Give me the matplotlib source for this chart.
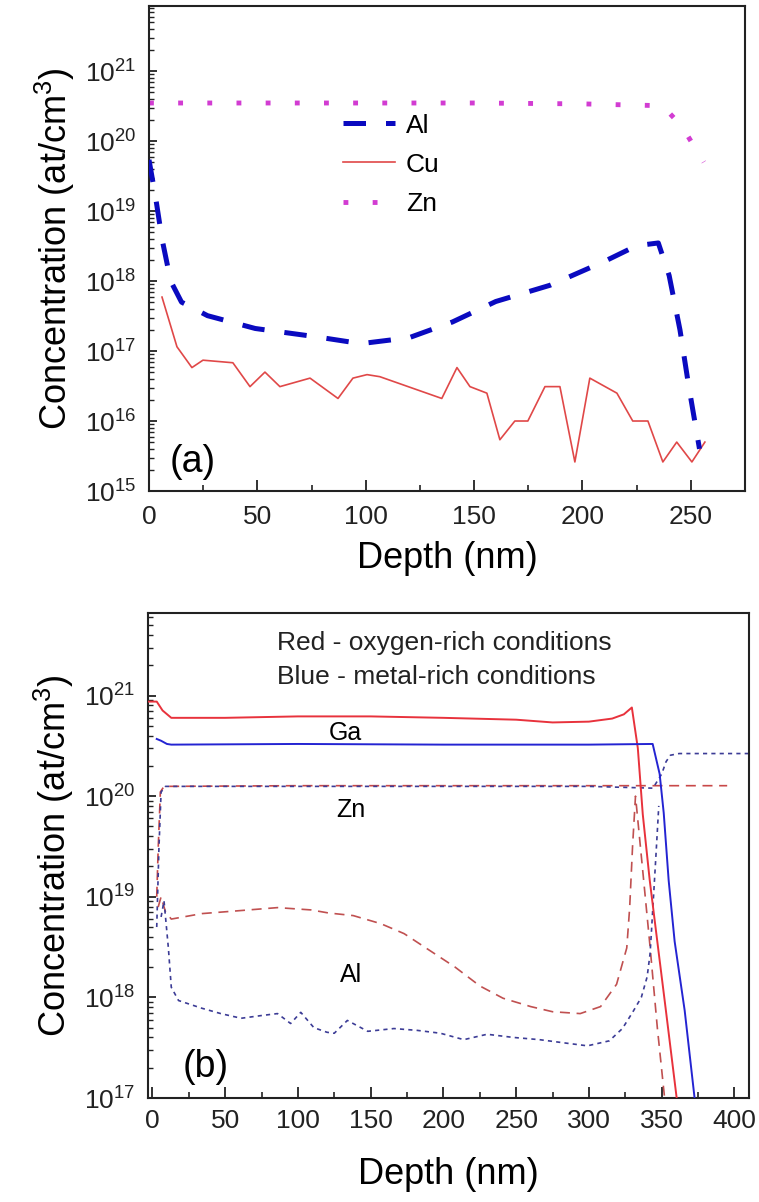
import numpy as np
import matplotlib
matplotlib.use("Agg")
import matplotlib.pyplot as plt
from matplotlib.ticker import LogLocator, MultipleLocator, FuncFormatter, NullFormatter

plt.rcParams['font.family'] = ['Liberation Sans', 'DejaVu Sans']
plt.rcParams['mathtext.fontset'] = 'custom'
plt.rcParams['mathtext.rm'] = 'Liberation Sans'
plt.rcParams['mathtext.it'] = 'Liberation Sans:italic'
plt.rcParams['mathtext.bf'] = 'Liberation Sans:bold'

# ---------------- Panel (a) data ----------------
a_zn_depth = [0, 10, 50, 100, 150, 200, 237, 246, 256]
a_zn_conc = [3.5e20, 3.5e20, 3.5e20, 3.5e20, 3.5e20, 3.4e20, 3.2e20, 1.6e20, 5.0e19]

a_al_depth = [0, 3, 6, 10, 15, 27, 49, 77, 96, 100, 120, 140, 160, 185, 210, 225, 235, 240, 245, 249, 254]
a_al_conc = [5.4e19, 1.6e19, 4.0e18, 1.0e18, 5.0e17, 3.2e17, 2.1e17, 1.6e17, 1.3e17, 1.3e17,
             1.55e17, 2.6e17, 5.1e17, 8.7e17, 1.9e18, 3.2e18, 3.5e18, 1.2e18, 2.0e17, 3.2e16, 4.0e15]

a_cu_depth = [6, 12.9, 19.8, 24.9, 38.7, 46.6, 53.5, 60.4, 74.3, 87.2, 94.1, 100.6, 106.5, 135.1,
              142.1, 148.1, 155.9, 161.9, 168.8, 174.8, 182.7, 189.6, 196.5, 203.4, 215.9, 223.2,
              230.2, 237.1, 243.5, 250.5, 256.5]
a_cu_conc = [5.9e17, 1.15e17, 5.8e16, 7.4e16, 6.8e16, 3.1e16, 5.0e16, 3.1e16, 4.1e16, 2.1e16,
             4.1e16, 4.6e16, 4.3e16, 2.1e16, 5.8e16, 3.1e16, 2.5e16, 5.4e15, 1.0e16, 1.0e16,
             3.1e16, 3.1e16, 2.6e15, 4.1e16, 2.5e16, 1.0e16, 1.0e16, 2.6e15, 5.0e15, 2.6e15, 5.0e15]

# ---------------- Panel (b) data ----------------
b_ga_o_depth = [-3, 3, 7, 13, 50, 100, 150, 200, 250, 275, 300, 316, 324, 329.5, 333.6, 337,
                341.8, 345.2, 352.7, 360.3, 362]
b_ga_o_conc = [8.7e20, 8.7e20, 7.1e20, 6.0e20, 6.0e20, 6.2e20, 6.2e20, 6.0e20, 5.75e20, 5.4e20,
               5.5e20, 5.9e20, 6.5e20, 7.6e20, 3.0e20, 6.6e19, 1.45e19, 5.8e18, 7.8e17, 1.0e17, 6.3e16]

b_ga_m_depth = [3, 6, 10, 13, 100, 200, 300, 343.8, 348.6, 351.4, 354.8, 358.9, 365.8, 372.6, 374]
b_ga_m_conc = [3.7e20, 3.55e20, 3.3e20, 3.25e20, 3.3e20, 3.25e20, 3.25e20, 3.3e20, 1.66e20,
               6.8e19, 1.45e19, 3.6e18, 7.4e17, 1.0e17, 6.3e16]

b_zn_o_depth = [3, 4, 5.5, 8, 100, 200, 300, 330, 395]
b_zn_o_conc = [1.0e19, 3.0e19, 1.1e20, 1.25e20, 1.27e20, 1.27e20, 1.27e20, 1.27e20, 1.27e20]

b_zn_m_depth = [3, 4.5, 6, 9, 100, 200, 300, 344, 350, 353, 356, 362, 410]
b_zn_m_conc = [5.0e18, 3.0e19, 1.1e20, 1.25e20, 1.25e20, 1.25e20, 1.25e20, 1.2e20, 1.66e20,
               2.2e20, 2.55e20, 2.65e20, 2.65e20]

b_al_o_depth = [4, 6, 9, 13, 34, 56, 86, 109, 121, 138, 157, 173, 191, 208, 225, 241, 260, 275,
                294, 308, 319, 326, 328, 330, 332, 337, 342, 347, 352]
b_al_o_conc = [7.9e18, 1.0e19, 7.1e18, 6.0e18, 6.8e18, 7.2e18, 7.8e18, 7.4e18, 6.9e18, 6.5e18,
               5.4e18, 4.3e18, 2.9e18, 2.0e18, 1.3e18, 9.8e17, 8.1e17, 7.2e17, 6.9e17, 8.1e17,
               1.35e18, 3.1e18, 7.8e18, 3.2e19, 1.0e20, 1.8e19, 3.2e18, 5.0e17, 1.0e17]

b_al_m_depth = [6, 8, 11, 13, 18, 34, 47, 61, 75, 86, 95, 102, 111, 120, 125, 134, 148, 166, 182,
                198, 214, 230, 248, 266, 285, 299, 314, 323, 330, 336, 340, 342, 343, 346, 348]
b_al_m_conc = [6.3e18, 9.1e18, 3.1e18, 1.26e18, 9.3e17, 7.8e17, 6.9e17, 6.2e17, 6.6e17, 6.9e17,
               5.5e17, 7.1e17, 5.0e17, 4.5e17, 4.4e17, 5.9e17, 4.6e17, 4.9e17, 4.7e17, 4.4e17,
               3.8e17, 4.3e17, 4.0e17, 3.8e17, 3.5e17, 3.3e17, 3.7e17, 4.9e17, 7.1e17, 1.0e18,
               1.6e18, 2.7e18, 4.6e18, 2.5e19, 8.0e19]

a_xticks = [0, 50, 100, 150, 200, 250]
b_xticks = [0, 50, 100, 150, 200, 250, 300, 350, 400]

# ---------------- Figure ----------------
fig = plt.figure(figsize=(7.59, 12.02), dpi=100)
ax1 = fig.add_axes([149/759, 1 - 491/1202, (745-149)/759, (491-6)/1202])
ax2 = fig.add_axes([148/759, 1 - 1098/1202, (749-148)/759, (1098-613)/1202])

sup_fmt = FuncFormatter(lambda v, p: r'$\mathregular{10^{%d}}$' % int(round(np.log10(v))))

def style(ax, xticks, xminor, xpad):
    for s in ax.spines.values():
        s.set_linewidth(1.5)
        s.set_color('#222222')
    ax.set_yscale('log')
    ax.yaxis.set_major_locator(LogLocator(base=10, numticks=20))
    ax.yaxis.set_minor_locator(LogLocator(base=10, subs=np.arange(2, 10), numticks=20))
    ax.yaxis.set_major_formatter(sup_fmt)
    ax.yaxis.set_minor_formatter(NullFormatter())
    ax.set_xticks(xticks)
    ax.xaxis.set_minor_locator(MultipleLocator(xminor))
    ax.tick_params(which='both', direction='in', top=False, right=False, colors='#222222')
    ax.tick_params(axis='x', which='major', length=8, width=1.3, labelsize=19, pad=xpad)
    ax.tick_params(axis='x', which='minor', length=4, width=1.2)
    ax.tick_params(axis='y', which='major', length=6, width=1.3, labelsize=19, pad=9)
    ax.tick_params(axis='y', which='minor', length=3.5, width=1.0)

# Panel (a)
ax1.plot(a_zn_depth, a_zn_conc, color='#d23cd2', lw=3.5, linestyle=(0, (1, 5)),
         dash_capstyle='butt', label='Zn', zorder=2)
ax1.plot(a_cu_depth, a_cu_conc, color='#e04848', lw=1.2, label='Cu', zorder=3)
ax1.plot(a_al_depth, a_al_conc, color='#0a0ac0', lw=3.6, linestyle=(0, (4.5, 4.0)),
         label='Al', zorder=4)
ax1.set_xlim(0, 275)
ax1.set_ylim(1e15, 10**21.93)
style(ax1, a_xticks, 25, 10)
ax1.set_xlabel('Depth (nm)', fontsize=26, labelpad=9)
ax1.set_ylabel('Concentration (at/cm$^3$)', fontsize=26, labelpad=6)
h, l = ax1.get_legend_handles_labels()
order = [2, 1, 0]
ax1.legend([h[i] for i in order], [l[i] for i in order], loc='upper left',
           bbox_to_anchor=(0.325, 0.778), frameon=False, fontsize=19, handlelength=2.0,
           handletextpad=0.4, labelspacing=0.57, borderpad=0, borderaxespad=0)
ax1.text(0.035, 0.06, '(a)', transform=ax1.transAxes, fontsize=27, va='center', ha='left')

# Panel (b)
ax2.plot(b_zn_o_depth, b_zn_o_conc, color='#c84848', lw=1.2, linestyle=(0, (6, 4)), zorder=2)
ax2.plot(b_zn_m_depth, b_zn_m_conc, color='#3c3c96', lw=1.2, linestyle=(0, (2.5, 2.5)), zorder=2)
ax2.plot(b_al_o_depth, b_al_o_conc, color='#c05050', lw=1.2, linestyle=(0, (6, 4)), zorder=2)
ax2.plot(b_al_m_depth, b_al_m_conc, color='#3c3c96', lw=1.2, linestyle=(0, (2.5, 2.5)), zorder=2)
ax2.plot(b_ga_o_depth, b_ga_o_conc, color='#e8323c', lw=1.4, zorder=3)
ax2.plot(b_ga_m_depth, b_ga_m_conc, color='#2424d2', lw=1.4, zorder=3)
ax2.set_xlim(-3, 410)
ax2.set_ylim(1e17, 10**21.82)
style(ax2, b_xticks, 25, 8)
ax2.set_xlabel('Depth (nm)', fontsize=26, labelpad=17)
ax2.set_ylabel('Concentration (at/cm$^3$)', fontsize=26, labelpad=6)
ax2.text(0.215, 0.938, 'Red - oxygen-rich conditions', transform=ax2.transAxes,
         fontsize=19, va='center', ha='left', color='#222222')
ax2.text(0.215, 0.868, 'Blue - metal-rich conditions', transform=ax2.transAxes,
         fontsize=19, va='center', ha='left', color='#222222')
ax2.text(0.328, 0.753, 'Ga', transform=ax2.transAxes, fontsize=18, va='center', ha='center')
ax2.text(0.338, 0.594, 'Zn', transform=ax2.transAxes, fontsize=18, va='center', ha='center')
ax2.text(0.338, 0.254, 'Al', transform=ax2.transAxes, fontsize=18, va='center', ha='center')
ax2.text(0.058, 0.064, '(b)', transform=ax2.transAxes, fontsize=27, va='center', ha='left')

fig.savefig('out.png', dpi=100)
